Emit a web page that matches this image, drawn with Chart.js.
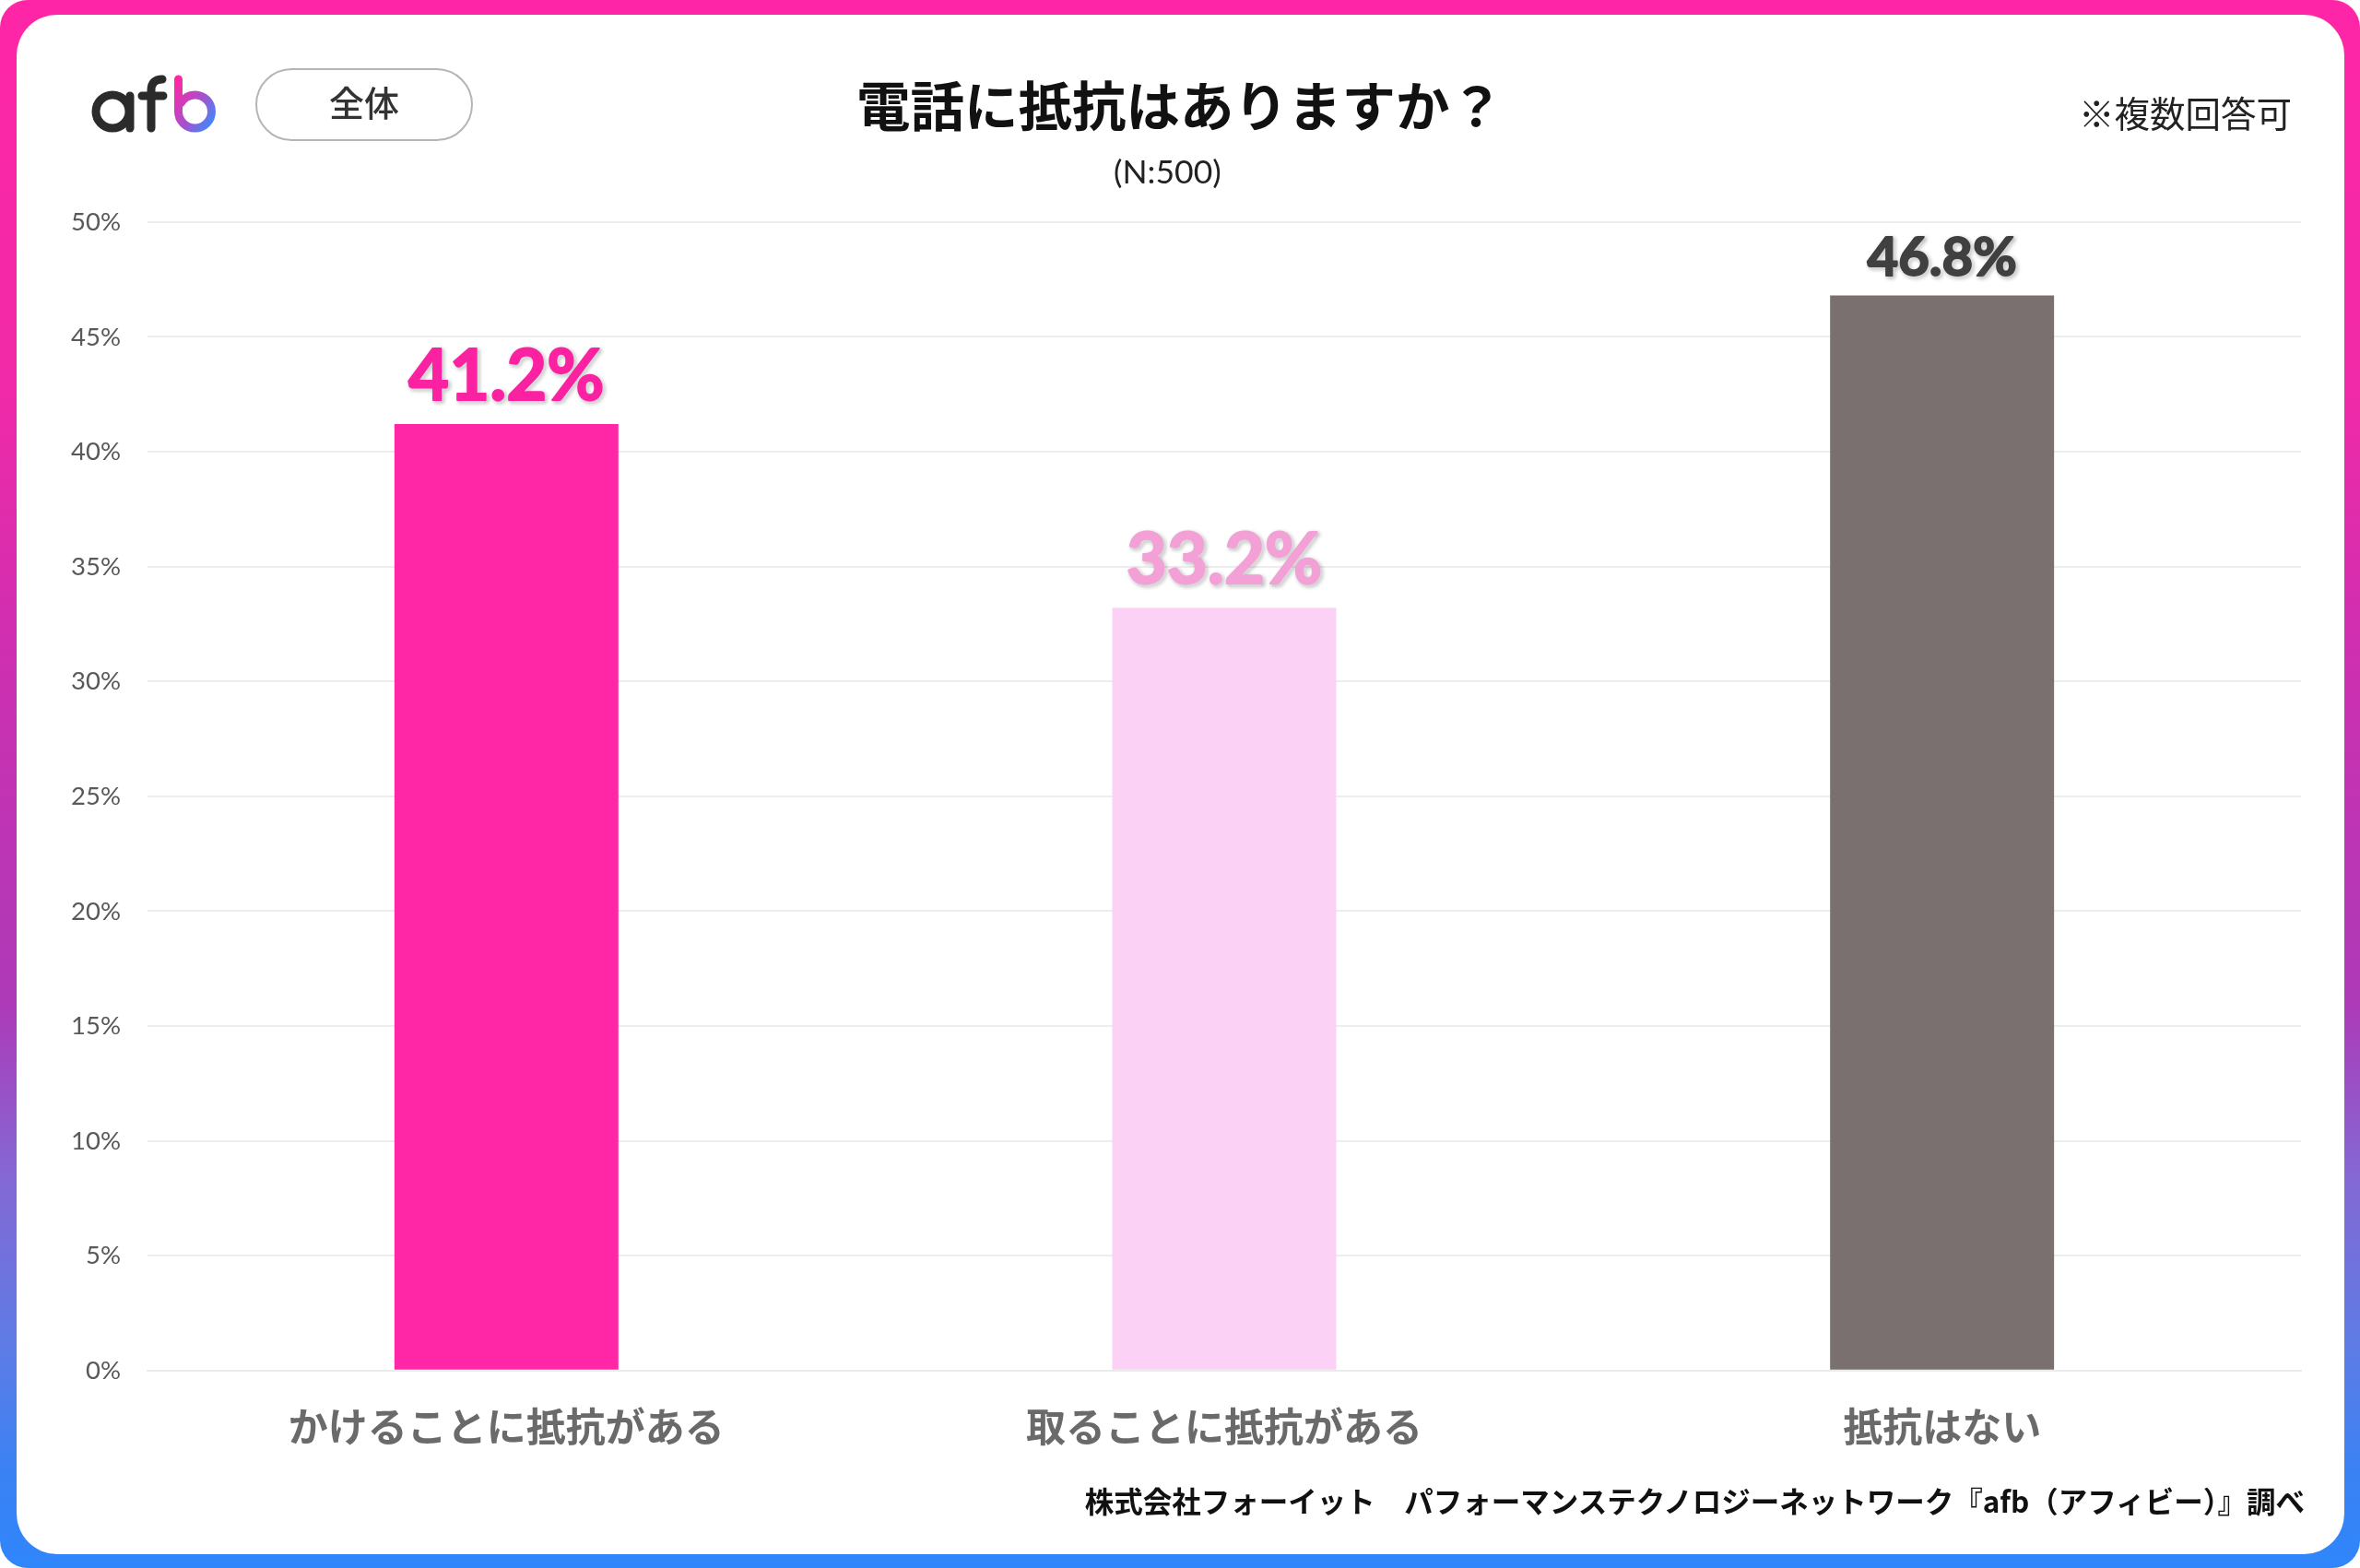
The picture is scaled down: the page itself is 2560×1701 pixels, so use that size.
<!DOCTYPE html>
<html lang="ja"><head><meta charset="utf-8">
<script src="https://cdn.jsdelivr.net/npm/chart.js@4"></script>
<style>
html,body{margin:0;padding:0;background:#fff;}
#stage{position:relative;width:2560px;height:1701px;overflow:hidden;background:#fff;font-family:"Noto Sans CJK JP",sans-serif;}
#frame{position:absolute;inset:0;border-radius:30px;background:linear-gradient(180deg,#ff26a6 0%,#f02aa8 25%,#cf2fb0 41%,#ad3ab8 64%,#8468d4 75%,#5d7ce6 86%,#3a82f4 94%,#2f86fb 100%);}
#inner{position:absolute;left:18px;top:16px;right:17px;bottom:15px;border-radius:44px;background:#fff;}
canvas{position:absolute;left:0;top:0;}
.t{position:absolute;white-space:nowrap;line-height:1;transform:translateY(-50%);}
#title{left:929px;top:112px;font-size:58.5px;font-weight:700;color:#111;letter-spacing:0;}
#sub{left:1208px;top:186px;font-size:35.5px;color:#222;font-family:"Lato",sans-serif;}
#note{left:2255px;top:121px;font-size:38.5px;color:#222;font-weight:400;}
#foot{right:60px;top:1628px;font-size:31.5px;font-weight:700;color:#111;}
#badge{position:absolute;left:277px;top:74px;width:236px;height:79px;box-sizing:border-box;border:2px solid #b5b5b5;border-radius:40px;padding-bottom:8px;display:flex;align-items:center;justify-content:center;font-size:38px;color:#333;font-weight:500;}
#logo{position:absolute;left:0;top:0;}
</style></head><body>
<div id="stage">
<div id="frame"></div><div id="inner"></div>
<canvas id="c" width="2560" height="1701"></canvas>
<svg id="logo" width="300" height="200" role="img" aria-label="afb"><title>afb</title>
<defs><linearGradient id="g" x1="0" y1="0" x2="1" y2="1"><stop offset="0" stop-color="#ff27a6"/><stop offset=".55" stop-color="#a750cc"/><stop offset="1" stop-color="#3a8cff"/></linearGradient></defs>
<g fill="none" stroke="#2b2b2b" stroke-width="9" stroke-linecap="round">
<circle cx="122" cy="121" r="18"/><path d="M141 104V139"/>
<path d="M164 139V98C164 90 168 86 176 86M154 104H177"/></g>
<path d="M193.500 86V121A18 18 0 1 0 211.500 103 A18 18 0 0 0 196 112" fill="none" stroke="url(#g)" stroke-width="9" stroke-linecap="round"/>
</svg>
<div id="badge">全体</div>
<div class="t" id="title">電話に抵抗はありますか？</div>
<div class="t" id="sub">(N:500)</div>
<div class="t" id="note">※複数回答可</div>
<div class="t" id="foot">株式会社フォーイット　パフォーマンステクノロジーネットワーク『afb（アフィビー）』調べ</div>
</div>
<script>
const categories = ["かけることに抵抗がある", "取ることに抵抗がある", "抵抗はない"];
const values = [41.2, 33.2, 46.8];
const barColors = ["#ff27a6", "#fbd1f6", "#7a7070"];
const labelColors = ["#fb22a2", "#f2a0d6", "#404040"];
const labelFonts = [76, 76, 58];
const labelGaps = [51, 51, 40];
const axisMax = 50;
const axisStep = 5;

const valueLabels = {
  id: "valueLabels",
  afterDatasetsDraw(chart) {
    const ctx = chart.ctx;
    chart.getDatasetMeta(0).data.forEach((bar, i) => {
      const text = values[i].toFixed(1) + "%";
      ctx.save();
      ctx.font = `700 ${labelFonts[i]}px Lato, sans-serif`;
      ctx.textAlign = "center";
      ctx.textBaseline = "middle";
      ctx.fillStyle = labelColors[i];
      ctx.strokeStyle = labelColors[i];
      ctx.lineWidth = 2;
      ctx.lineJoin = "round";
      ctx.shadowColor = "rgba(0,0,0,0.45)";
      ctx.shadowBlur = 4;
      ctx.shadowOffsetX = 2;
      ctx.shadowOffsetY = 2;
      ctx.strokeText(text, bar.x, bar.y - labelGaps[i]);
      ctx.shadowColor = "transparent";
      ctx.fillText(text, bar.x, bar.y - labelGaps[i]);
      ctx.restore();
    });
  }
};

new Chart(document.getElementById("c"), {
  type: "bar",
  data: { labels: categories, datasets: [{ data: values, backgroundColor: barColors, barPercentage: 0.312, categoryPercentage: 1 }] },
  options: {
    responsive: false, animation: false, devicePixelRatio: 1,
    layout: { padding: { top: 240.7, right: 64, left: 0, bottom: 0 } },
    plugins: { legend: { display: false }, title: { display: false }, tooltip: { enabled: false } },
    scales: {
      x: {
        afterFit(s) { s.height = 214.3; },
        grid: { display: false },
        border: { color: "#ebebeb", width: 2 },
        ticks: { color: "#6a6a6a", padding: 27, autoSkip: false, maxRotation: 0, font: { family: '"Noto Sans CJK JP"', size: 43, weight: 700 } }
      },
      y: {
        min: 0, max: axisMax,
        afterFit(s) { s.width = 160; },
        grid: { color: "#ededed", lineWidth: 2, drawTicks: false },
        border: { display: false },
        ticks: { stepSize: axisStep, padding: 29, labelOffset: 0.5, color: "#595959", font: { family: "Lato", size: 27.5 }, callback: v => v + "%" }
      }
    }
  },
  plugins: [valueLabels]
});
</script>
</body></html>
